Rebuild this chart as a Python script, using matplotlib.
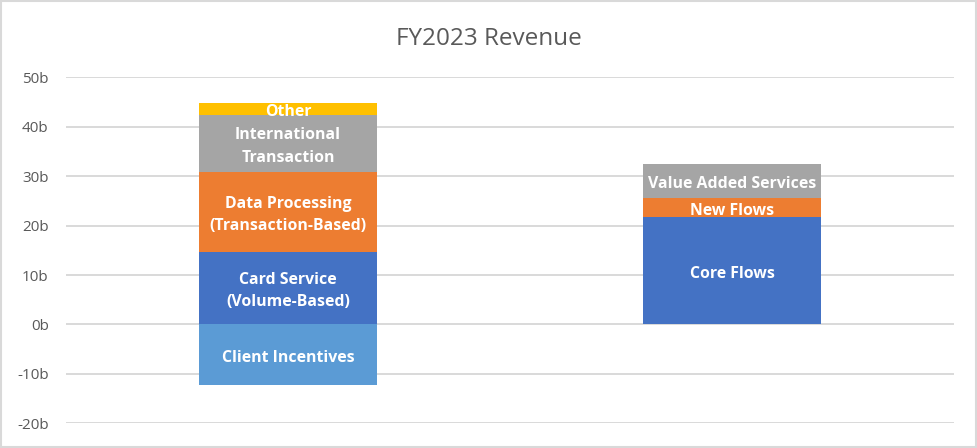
import matplotlib
matplotlib.use("Agg")
import matplotlib.pyplot as plt
from matplotlib.patches import Rectangle
from matplotlib.transforms import offset_copy

categories = ["Visa", "Mastercard"]
left_labels = ["Client Incentives", "Card Service\n(Volume-Based)", "Data Processing\n(Transaction-Based)",
               "International\nTransaction", "Other"]
left_values = [-12.3, 14.7, 16.1, 11.6, 2.4]
left_colors = ["#5B9BD5", "#4472C4", "#ED7D31", "#A5A5A5", "#FFC000"]
right_labels = ["Core Flows", "New Flows", "Value Added Services"]
right_values = [21.7, 3.8, 7.0]
right_colors = ["#4472C4", "#ED7D31", "#A5A5A5"]
yticks = [-20, -10, 0, 10, 20, 30, 40, 50]

W, H = 978, 448
fig = plt.figure(figsize=(W / 100, H / 100), dpi=100)
fig.patch.set_facecolor("white")
fig.patches.append(Rectangle((0.5 / W, 1.5 / H), 1 - 2.5 / W, 1 - 2.5 / H, transform=fig.transFigure,
                             fill=False, edgecolor="#D9D9D9", linewidth=1.5))
ax = fig.add_axes([66 / W, (H - 423.3) / H, (954 - 66) / W, (423.3 - 77.3) / H])
ax.set_xlim(-0.5, 1.5)
ax.set_ylim(-20, 50)
ax.set_yticks(yticks)
ax.set_yticklabels([f"{t}b" for t in yticks])
ax.tick_params(axis="y", length=0, pad=12.5, labelsize=11, labelcolor="#595959")
ax.tick_params(axis="x", length=0, labelbottom=False)
for lab in ax.get_yticklabels():
    lab.set_fontfamily("Open Sans")
ax.grid(axis="y", color="#D9D9D9", linewidth=1.4)
ax.set_axisbelow(True)
for s in ax.spines.values():
    s.set_visible(False)

bw = 0.4
shifted = offset_copy(ax.transData, fig=fig, x=0, y=-3, units="dots")
txt = dict(ha="center", va="center", color="white", fontweight="bold", fontsize=11.4,
           family="Open Sans", linespacing=1.55, transform=shifted)

def stack(x, values, labels, colors):
    pos = 0.0
    for v, lab, c in zip(values, labels, colors):
        if v < 0:
            ax.bar(x, -v, bottom=v, width=bw, color=c)
            ax.text(x, v / 2, lab, **txt)
        else:
            ax.bar(x, v, bottom=pos, width=bw, color=c)
            ax.text(x, pos + v / 2, lab, **txt)
            pos += v

stack(0, left_values, left_labels, left_colors)
stack(1, right_values, right_labels, right_colors)

fig.text(489 / W, (H - 39) / H, "FY2023 Revenue", ha="center", va="center", fontsize=17.5,
         color="#595959", family="Open Sans")

fig.savefig("out.png", dpi=100)
